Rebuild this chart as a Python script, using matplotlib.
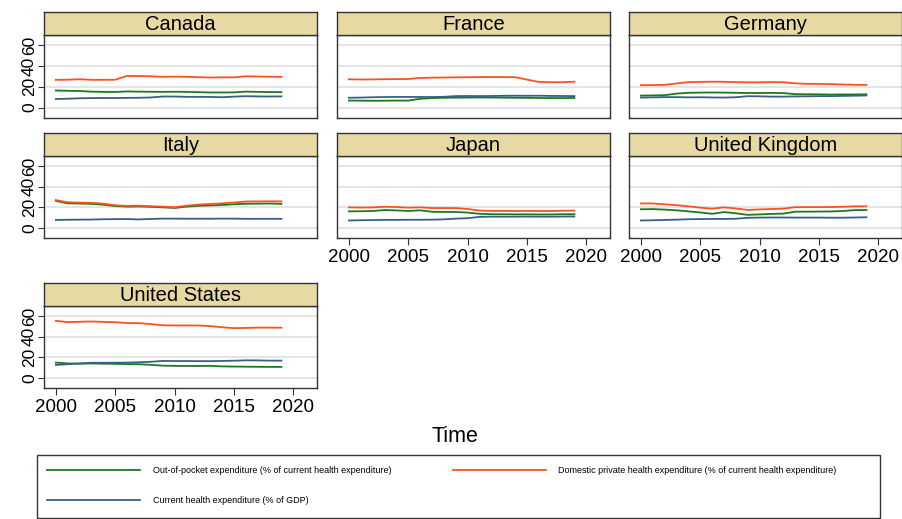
import numpy as np
import matplotlib
matplotlib.use("Agg")
import matplotlib.pyplot as plt
from matplotlib.lines import Line2D
from matplotlib.patches import Rectangle

plt.rcParams['font.family'] = ['Liberation Sans', 'DejaVu Sans']

years = np.arange(2000, 2020)

countries = ["Canada", "France", "Germany", "Italy", "Japan",
             "United Kingdom", "United States"]

# out-of-pocket (% of current health expenditure)
oop = {
    "Canada": [16.5, 16.2, 16.0, 15.4, 15.2, 15.1, 15.6, 15.4, 15.3, 15.2,
               15.3, 15.2, 14.9, 14.6, 14.6, 14.7, 15.4, 15.2, 15.0, 14.9],
    "France": [6.8, 6.7, 6.6, 6.7, 6.8, 6.8, 8.5, 9.2, 9.5, 9.6,
               9.7, 9.8, 9.7, 9.6, 9.5, 9.4, 9.3, 9.2, 9.2, 9.3],
    "Germany": [11.6, 11.8, 12.0, 13.5, 14.3, 14.5, 14.6, 14.5, 14.3, 14.1,
                14.1, 14.2, 14.0, 13.0, 12.9, 12.8, 12.6, 12.7, 12.7, 12.8],
    "Italy": [26.2, 23.8, 23.6, 23.3, 22.5, 21.2, 20.6, 20.8, 20.4, 19.9,
              19.3, 20.6, 21.4, 21.8, 22.2, 22.9, 23.4, 23.5, 23.6, 23.3],
    "Japan": [16.0, 16.1, 16.3, 17.3, 16.9, 16.4, 17.0, 15.6, 15.4, 15.4,
              14.8, 13.6, 13.2, 13.2, 13.1, 13.1, 13.0, 13.0, 13.2, 13.2],
    "United Kingdom": [18.0, 18.2, 17.7, 17.0, 16.0, 14.9, 13.6, 15.3, 14.1, 12.6,
                       13.0, 13.5, 13.8, 15.7, 15.7, 15.8, 15.9, 16.3, 17.2, 17.3],
    "United States": [14.8, 14.0, 13.7, 13.9, 13.7, 13.6, 13.3, 13.2, 12.6, 11.8,
                      11.6, 11.5, 11.5, 11.6, 11.1, 10.9, 10.8, 10.7, 10.6, 10.6],
}

# domestic private (% of current health expenditure)
private = {
    "Canada": [26.8, 26.9, 27.4, 26.8, 26.8, 26.9, 30.6, 30.4, 30.2, 29.7,
               29.9, 29.7, 29.3, 29.0, 29.2, 29.2, 30.2, 30.0, 29.8, 29.6],
    "France": [27.3, 27.1, 27.2, 27.4, 27.5, 27.6, 28.6, 28.9, 29.0, 29.2,
               29.3, 29.4, 29.5, 29.4, 29.4, 27.0, 24.8, 24.5, 24.5, 25.0],
    "Germany": [21.6, 21.7, 21.9, 23.3, 24.6, 24.8, 25.0, 24.9, 24.6, 24.4,
                24.4, 24.6, 24.5, 23.4, 22.9, 22.9, 22.6, 22.3, 22.0, 21.9],
    "Italy": [27.0, 24.8, 24.5, 24.3, 23.5, 21.9, 21.3, 21.5, 21.0, 20.6,
              20.0, 21.5, 22.6, 23.2, 23.8, 24.6, 25.6, 25.7, 25.8, 25.7],
    "Japan": [19.9, 19.7, 19.8, 20.5, 20.2, 19.6, 19.9, 19.2, 19.2, 19.2,
              18.3, 16.8, 16.4, 16.4, 16.3, 16.4, 16.3, 16.3, 16.6, 16.7],
    "United Kingdom": [23.7, 23.7, 22.9, 22.0, 20.9, 19.6, 18.6, 19.9, 18.8, 17.4,
                       17.9, 18.3, 18.6, 20.1, 20.1, 20.1, 20.2, 20.5, 20.9, 20.9],
    "United States": [55.5, 54.3, 54.6, 54.9, 54.5, 54.2, 53.4, 53.3, 52.3, 51.2,
                      51.0, 51.0, 51.0, 50.4, 49.3, 48.4, 48.6, 48.9, 48.9, 48.8],
}

# current health expenditure (% of GDP)
che = {
    "Canada": [8.3, 8.6, 9.0, 9.2, 9.3, 9.2, 9.4, 9.5, 9.8, 10.7,
               10.7, 10.4, 10.4, 10.3, 10.0, 10.6, 11.0, 10.8, 10.7, 10.8],
    "France": [9.5, 9.7, 10.0, 10.2, 10.3, 10.3, 10.3, 10.2, 10.4, 11.1,
               11.2, 11.1, 11.2, 11.4, 11.5, 11.4, 11.5, 11.3, 11.2, 11.1],
    "Germany": [9.7, 9.9, 10.1, 10.1, 9.9, 10.0, 9.8, 9.7, 10.0, 11.0,
                10.9, 10.6, 10.6, 10.8, 10.9, 11.1, 11.1, 11.3, 11.5, 11.7],
    "Italy": [7.6, 7.8, 7.9, 8.0, 8.3, 8.4, 8.5, 8.1, 8.6, 8.9,
              8.9, 8.8, 8.8, 8.8, 8.9, 8.9, 8.7, 8.7, 8.7, 8.7],
    "Japan": [7.1, 7.3, 7.5, 7.7, 7.7, 7.8, 7.8, 7.9, 8.2, 8.9,
              9.3, 10.6, 10.8, 10.8, 10.8, 10.9, 10.8, 10.8, 10.9, 11.0],
    "United Kingdom": [7.1, 7.3, 7.6, 7.9, 8.3, 8.5, 8.6, 8.6, 8.8, 9.7,
                       9.9, 10.0, 10.0, 9.9, 9.9, 9.9, 9.8, 9.8, 10.0, 10.2],
    "United States": [12.5, 13.2, 14.0, 14.6, 14.6, 14.7, 14.8, 15.1, 15.6, 16.4,
                      16.3, 16.3, 16.2, 16.2, 16.4, 16.6, 17.0, 16.9, 16.7, 16.7],
}

labels = ["Out-of-pocket expenditure (% of current health expenditure)",
          "Current health expenditure (% of GDP)",
          "Domestic private health expenditure (% of current health expenditure)"]
c_green = "#1b7a1b"
c_orange = "#ff5020"
c_blue = "#36608a"
header_col = "#e6d9a3"

W, H = 903, 519
fig = plt.figure(figsize=(W / 100, H / 100), dpi=100)

def px(x, y, w, h):
    # pixel box (top-left origin) -> figure fraction
    return [x / W, 1 - (y + h) / H, w / W, h / H]

col_x = [44, 337, 629]
row_y = [(12, 35, 118), (133, 156, 238), (283, 306, 388)]
panel_w = 273

for i, name in enumerate(countries):
    r, c = divmod(i, 3)
    top, hb, bot = row_y[r]
    ax = fig.add_axes(px(col_x[c], hb, panel_w, bot - hb))
    hx = fig.add_axes(px(col_x[c], top, panel_w, hb - top))
    hx.set_facecolor(header_col)
    hx.set_xticks([])
    hx.set_yticks([])
    for s in hx.spines.values():
        s.set_color("#333333")
        s.set_linewidth(1.0)
    hx.text(0.5, 0.45, name, ha="center", va="center", fontsize=14.5,
            transform=hx.transAxes)

    ax.plot(years, oop[name], color=c_green, lw=1.3)
    ax.plot(years, private[name], color=c_orange, lw=1.3)
    ax.plot(years, che[name], color=c_blue, lw=1.3)

    ax.set_xlim(1999, 2022)
    ax.set_ylim(-10, 70)
    ax.set_yticks([0, 20, 40, 60])
    ax.set_xticks([2000, 2005, 2010, 2015, 2020])
    ax.grid(axis="y", color="#e2e2e2", lw=1.3)
    ax.set_axisbelow(True)
    for s in ax.spines.values():
        s.set_color("#333333")
        s.set_linewidth(1.0)

    bottom_row = (name in ("Japan", "United Kingdom", "United States"))
    if c == 0:
        ax.tick_params(axis="y", length=4, labelsize=12.5, pad=1,
                       color="#333333")
        for t in ax.get_yticklabels():
            t.set_rotation(90)
            t.set_va("center")
    else:
        ax.tick_params(axis="y", left=False, labelleft=False)
    if bottom_row:
        ax.tick_params(axis="x", length=5, labelsize=13.5, pad=3,
                       color="#333333")
    else:
        ax.tick_params(axis="x", bottom=False, labelbottom=False)

fig.text(455 / W, 1 - 436 / H, "Time", ha="center", va="center", fontsize=15.5)

# legend box
fig.patches.append(Rectangle((37 / W, 1 - 518 / H), 843 / W, 63 / H,
                             transform=fig.transFigure, fill=False,
                             edgecolor="#333333", lw=1.0))
handles = [Line2D([], [], color=c_green, lw=1.3),
           Line2D([], [], color=c_blue, lw=1.3),
           Line2D([], [], color=c_orange, lw=1.3)]
fig.legend(handles, labels, ncol=2, loc="upper left",
           bbox_to_anchor=(47 / W, 1 - 466 / H),
           fontsize=6.5, handlelength=10.3, handletextpad=1.4,
           labelspacing=2.3, columnspacing=6.8, borderpad=0,
           frameon=False, borderaxespad=0)

fig.savefig("out.png", dpi=100)
